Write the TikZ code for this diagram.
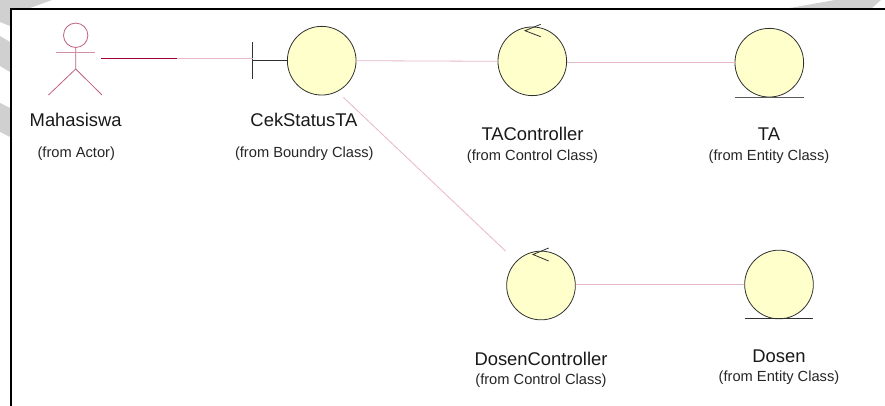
\documentclass[tikz,border=0pt]{standalone}
\usepackage{fontspec}
\setmainfont{Liberation Sans}
\definecolor{actorc}{HTML}{C06080}
\definecolor{assocc}{HTML}{E8B8C8}
\definecolor{assocd}{HTML}{A00038}
\definecolor{fillc}{HTML}{FFFFCB}
\definecolor{edgec}{HTML}{303030}
\definecolor{band}{HTML}{D0D0D0}
\tikzset{
  x=0.75pt,y=-0.75pt,
  ball/.style={circle,draw=edgec,fill=fillc,line width=0.6pt,minimum size=51.5pt,inner sep=0pt},
  titlelabel/.style={font=\fontsize{13.8}{16}\selectfont,text=black!90,inner sep=0pt},
  fromlabel/.style={font=\fontsize{11}{13}\selectfont,text=black!85,inner sep=0pt},
  assoc/.style={draw=assocc,line width=0.6pt},
  actorline/.style={draw=actorc,line width=0.6pt},
  glyph/.style={draw=edgec,line width=0.6pt},
}
\begin{document}
\begin{tikzpicture}
\useasboundingbox (0,0) rectangle (885,406);
\fill[white] (0,0) rectangle (885,406);
% watermark remnants outside frame
\fill[band] (0,0) -- (52,0) -- (30,8) -- (10,8) -- (10,26) -- (0,22) -- cycle;
\fill[band] (0,36) -- (10,42) -- (10,72) -- (0,66) -- cycle;
\fill[band] (0,103) -- (10,108) -- (10,137) -- (0,132) -- cycle;
\fill[band] (790,8) -- (835,0) -- (881,0) -- (872,8) -- cycle;
% frame
\draw[line width=1.5pt,black] (10.5,406) -- (10.5,9.5) -- (885,9.5);
% balls
\node[ball] (cek) at (321.7,60.7) {};
\node[ball] (tac) at (532.3,61.3) {};
\node[ball] (ta) at (769.3,62.7) {};
\node[ball] (doc) at (541,285.5) {};
\node[ball] (dos) at (779,284.5) {};
% actor
\node[circle,actorline,minimum size=18.3pt,inner sep=0pt] (head) at (75.7,35.3) {};
\coordinate (hipc) at (75.7,69);
\coordinate (armL) at (56,52.7);
\coordinate (armR) at (94.5,52.7);
\coordinate (legL) at (48.5,95);
\coordinate (legR) at (102,95);
\draw[actorline] (head.south) -- (hipc) (hipc) -- (legL) (hipc) -- (legR);
\draw[draw=actorc!70,line width=0.9pt] (armL) -- (armR);
% boundary
\coordinate (barT) at (252.7,42.5);
\coordinate (barB) at (252.7,79);
\coordinate (barM) at (252.7,60.7);
\draw[glyph] (barT) -- (barB) (barM) -- (cek.west);
% control arrowheads
\coordinate (tacA) at (525,30.7);
\coordinate (tacB) at (540.7,24.3);
\coordinate (tacC) at (540.7,36.7);
\draw[glyph] (tacB) -- (tacA) -- (tacC);
\coordinate (docA) at (533,254.5);
\coordinate (docB) at (548.7,248);
\coordinate (docC) at (548.7,261);
\draw[glyph] (docB) -- (docA) -- (docC);
% entity underline
\coordinate (taL) at (735,97);
\coordinate (taR) at (803.5,97);
\draw[glyph,draw=edgec!80] (taL) -- (taR);
\coordinate (dosL) at (745,318.5);
\coordinate (dosR) at (813,318.5);
\draw[glyph] (dosL) -- (dosR);
% connectors
\coordinate (mhsEnd) at (101,58.3);
\coordinate (mhsMid) at (177,58.3);
\draw[draw=assocd,line width=0.7pt] (mhsEnd) -- (mhsMid);
\draw[assoc] (mhsMid) -- (barT |- mhsMid);
\draw[assoc] (cek.east) -- (tac.west);
\draw[assoc] (tac.east |- ta.west) -- (ta.west);
\coordinate (cekD) at (343.5,97.5);
\coordinate (docD) at (505.5,251);
\draw[assoc] (cekD) -- (docD);
\draw[assoc] (doc.east |- dos.west) -- (dos.west);
% labels
\node[titlelabel] (l1) at (75.7,120) {Mahasiswa};
\node[fromlabel] (s1) at (76.3,153.5) {(from Actor)};
\node[titlelabel] (l2) at (304,120) {CekStatusTA};
\node[fromlabel] (s2) at (304.3,153.5) {(from Boundry Class)};
\node[titlelabel] (l3) at (532.5,134) {TAController};
\node[fromlabel] (s3) at (532.5,156.5) {(from Control Class)};
\node[titlelabel] (l4) at (769,134) {TA};
\node[fromlabel] (s4) at (769,156.5) {(from Entity Class)};
\node[titlelabel] (l5) at (541,358.5) {DosenController};
\node[fromlabel] (s5) at (541,380.5) {(from Control Class)};
\node[titlelabel] (l6) at (779,356.5) {Dosen};
\node[fromlabel] (s6) at (779,377.5) {(from Entity Class)};
\end{tikzpicture}
\end{document}
